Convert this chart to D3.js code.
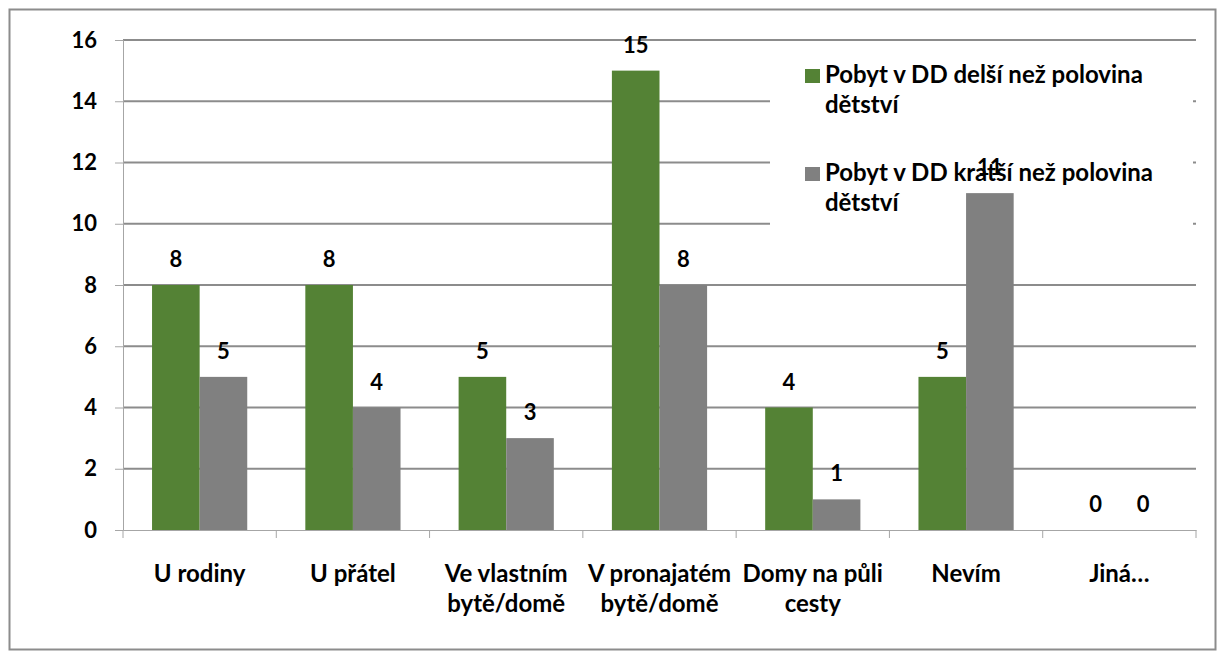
<!DOCTYPE html>
<html>
<head>
  <meta charset="utf-8">
  <title>Pobyt v DD</title>
  <script src="https://cdn.jsdelivr.net/npm/d3@7"></script>
  <style>
    body { margin: 0; background: #fff; }
    text { font-family: Lato, "Open Sans", sans-serif; font-weight: bold; fill: #000; }
  </style>
</head>
<body>
  <script>
    // Data
    const categories = [
      ["U rodiny"], ["U přátel"], ["Ve vlastním", "bytě/domě"], ["V pronajatém", "bytě/domě"],
      ["Domy na půli", "cesty"], ["Nevím"], ["Jiná…"]
    ];
    const seriesNames = [
      ["Pobyt v DD delší než polovina", "dětství"],
      ["Pobyt v DD kratší než polovina", "dětství"]
    ];
    const longer = [8, 8, 5, 15, 4, 5, 0];
    const shorter = [5, 4, 3, 8, 1, 11, 0];
    const colors = ["#548235", "#808080"];
    const yTicks = [0, 2, 4, 6, 8, 10, 12, 14, 16];

    const w = 1223;
    const h = 655;
    const plotLeft = 123, plotRight = 1196, plotTop = 40, plotBottom = 530;

    const svg = d3.select("body")
      .append("svg")
      .attr("width", w)
      .attr("height", h);

    // ramme
    svg.append("rect")
      .attr("x", 9.5).attr("y", 9.5)
      .attr("width", 1206).attr("height", 640)
      .attr("fill", "#fff")
      .attr("stroke", "#8c8c8c")
      .attr("stroke-width", 2);

    const idx = d3.range(categories.length);
    const x0 = d3.scaleBand().domain(idx).range([plotLeft, plotRight]);
    const x1 = d3.scaleBand().domain([0, 1]).range([0, x0.bandwidth()]).paddingOuter(0.61);
    const y = d3.scaleLinear().domain([0, 16]).range([plotBottom, plotTop]);

    // gridlines
    svg.append("g")
      .selectAll("line")
      .data(yTicks.filter(d => d > 0))
      .enter()
      .append("line")
      .attr("x1", plotLeft).attr("x2", plotRight)
      .attr("y1", d => y(d)).attr("y2", d => y(d))
      .attr("stroke", "#8c8c8c")
      .attr("stroke-width", 2);

    // legend background covers gridlines
    svg.append("rect")
      .attr("x", 770).attr("y", 52)
      .attr("width", 423).attr("height", 182)
      .attr("fill", "#fff");

    // axes
    const yAxis = svg.append("g")
      .attr("transform", `translate(${plotLeft},0)`)
      .call(d3.axisLeft(y).tickValues(yTicks).tickSize(8).tickPadding(18));
    const xAxis = svg.append("g")
      .attr("transform", `translate(0,${plotBottom})`)
      .call(d3.axisBottom(x0).tickSize(0).tickFormat(""));
    [yAxis, xAxis].forEach(g => {
      g.select(".domain").attr("stroke", "#a6a6a6");
      g.selectAll(".tick line").attr("stroke", "#a6a6a6");
    });
    yAxis.selectAll(".tick text")
      .attr("font-size", 22)
      .style("font-family", "Lato, sans-serif")
      .style("font-weight", "bold");

    // category tick marks on boundaries
    svg.append("g")
      .selectAll("line")
      .data(d3.range(categories.length + 1))
      .enter()
      .append("line")
      .attr("x1", d => plotLeft + d * x0.step())
      .attr("x2", d => plotLeft + d * x0.step())
      .attr("y1", plotBottom).attr("y2", plotBottom + 8)
      .attr("stroke", "#a6a6a6");

    // bars
    const series = [longer, shorter];
    series.forEach((vals, s) => {
      svg.append("g")
        .selectAll("rect")
        .data(vals)
        .enter()
        .append("rect")
        .attr("x", (d, i) => x0(i) + x1(s))
        .attr("y", d => y(d))
        .attr("width", x1.bandwidth())
        .attr("height", d => plotBottom - y(d))
        .attr("fill", colors[s]);
    });

    // category labels
    const cat = svg.append("g")
      .selectAll("text")
      .data(categories)
      .enter()
      .append("text")
      .attr("text-anchor", "middle")
      .attr("font-size", 24)
      .attr("x", (d, i) => x0(i) + x0.bandwidth() / 2)
      .attr("y", 582);
    cat.selectAll("tspan")
      .data(d => d)
      .enter()
      .append("tspan")
      .attr("x", function () { return this.parentNode.getAttribute("x"); })
      .attr("dy", (d, i) => i === 0 ? 0 : 30)
      .text(d => d);

    // legend
    const legendY = [83, 181];
    seriesNames.forEach((lines, s) => {
      svg.append("rect")
        .attr("x", 805).attr("y", legendY[s] - 14)
        .attr("width", 15).attr("height", 14)
        .attr("fill", colors[s]);
      const t = svg.append("text")
        .attr("x", 825).attr("y", legendY[s])
        .attr("font-size", 24);
      t.selectAll("tspan")
        .data(lines)
        .enter()
        .append("tspan")
        .attr("x", 825)
        .attr("dy", (d, i) => i === 0 ? 0 : 30)
        .text(d => d);
    });

    // data labels
    series.forEach((vals, s) => {
      svg.append("g")
        .selectAll("text")
        .data(vals)
        .enter()
        .append("text")
        .attr("text-anchor", "middle")
        .attr("font-size", 22)
        .attr("x", (d, i) => x0(i) + x1(s) + x1.bandwidth() / 2)
        .attr("y", d => y(d) - 18)
        .text(d => d);
    });
  </script>
</body>
</html>
